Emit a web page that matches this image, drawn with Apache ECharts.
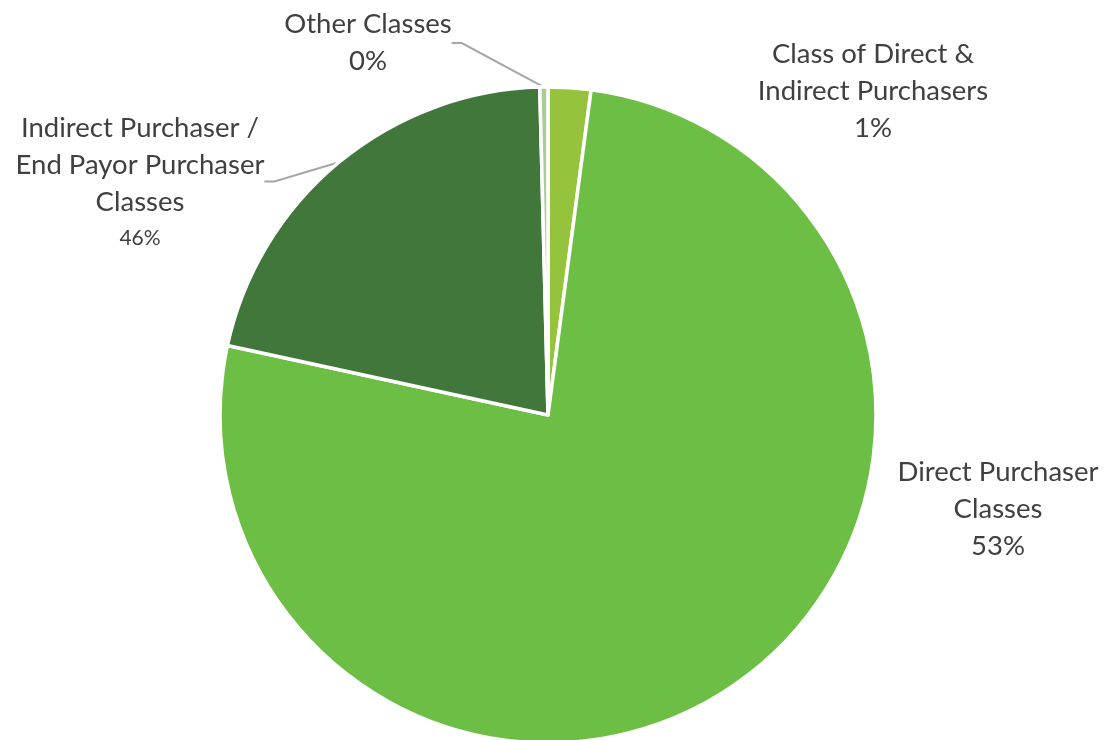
<!DOCTYPE html>
<html>
<head>
<meta charset="utf-8">
<script src="https://cdn.jsdelivr.net/npm/echarts@6/dist/echarts.min.js"></script>
<style>
  html, body { margin: 0; padding: 0; background: #fff; }
  #chart { width: 1105px; height: 740px; }
</style>
</head>
<body>
<div id="chart"></div>
<script>
// Slice sizes (share of the circle, %)
var categories = ['Class of Direct &\nIndirect Purchasers', 'Direct Purchaser\nClasses', 'Indirect Purchaser /\nEnd Payor Purchaser\nClasses', 'Other Classes'];
var sliceValues = [2.1, 76.3, 21.2, 0.4];
// Percent texts as printed on the labels
var labelPercents = ['1%', '53%', '46%', '0%'];
var colors = ['#95C43C', '#6DBE45', '#41773A', '#A9CC98'];

// label block centres
var labelPos = [[873, 91], [998, 509], [140, 183], [368, 43]];

var chart = echarts.init(document.getElementById('chart'));

var data = [];
for (var i = 0; i < categories.length; i++) {
  data.push({
    value: sliceValues[i],
    name: categories[i],
    itemStyle: { color: colors[i] },
    labelLine: { show: i >= 2 }
  });
}

var option = {
  animation: false,
  series: [{
    type: 'pie',
    center: [548, 415],
    radius: 328,
    startAngle: 90,
    clockwise: true,
    itemStyle: { borderColor: '#fff', borderWidth: 3.5 },
    label: {
      show: true,
      position: 'outside',
      color: '#404040',
      fontFamily: 'Lato',
      formatter: function (p) {
        var small = p.dataIndex === 2 ? 's' : 'p';
        return '{n|' + p.name + '}\n{' + small + '|' + labelPercents[p.dataIndex] + '}';
      },
      rich: {
        n: { fontSize: 27.5, lineHeight: 37, color: '#404040', fontFamily: 'Lato', align: 'center' },
        p: { fontSize: 27.5, lineHeight: 37, color: '#404040', fontFamily: 'Lato', align: 'center' },
        s: { fontSize: 21, lineHeight: 36, color: '#404040', fontFamily: 'Lato', align: 'center' }
      }
    },
    labelLine: {
      length: 20,
      length2: 10,
      lineStyle: { color: '#A6A6A6', width: 2 }
    },
    labelLayout: function (params) {
      var pos = labelPos[params.dataIndex];
      return { x: pos[0], y: pos[1], align: 'center', verticalAlign: 'middle' };
    },
    data: data
  }]
};

chart.setOption(option);
</script>
</body>
</html>
